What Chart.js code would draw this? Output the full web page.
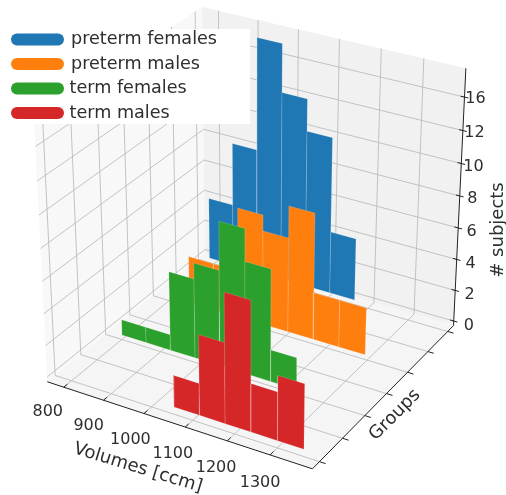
<!DOCTYPE html>
<html>
<head>
<meta charset="utf-8">
<style>
  html, body { margin: 0; background: #fff; }
  #chart-box { width: 506px; height: 495px; }
</style>
<script src="https://cdn.jsdelivr.net/npm/chart.js@4"></script>
</head>
<body>
<div id="chart-box"><canvas id="chart" width="506" height="495"></canvas></div>
<script>
const seriesNames = ['preterm females', 'preterm males', 'term females', 'term males'];
const seriesColors = ['#1f77b4', '#ff7f0e', '#2ca02c', '#d62728'];
const seriesGroups = [3, 2, 1, 0.04];

const bluePretermFemales = [4, 8, 15, 12, 10, 4];
const orangePretermMales = [3, 3, 7, 6, 8, 3, 3];
const greenTermFemales = [1, 1, 5, 6, 9, 7, 2];
const redTermMales = [2, 5, 8, 3, 4];

const blueEdges = [788, 851, 914, 977, 1040, 1103, 1166];
const orangeEdges = [853, 916, 979, 1042, 1105, 1168, 1231, 1295];
const greenEdges = [801, 863, 925, 987, 1049, 1111, 1173, 1235];
const redEdges = [1050, 1112, 1173, 1234, 1296, 1357];

const xTicks = [800, 900, 1000, 1100, 1200, 1300];
const yTicks = [0, 0.5, 1, 1.5, 2, 2.5, 3];
const zTicks = [0, 2, 4, 6, 8, 10, 12, 14];
const zTickLabels = ['0', '2', '4', '6', '8', '10', '12', '16'];

const xLim = [758, 1397];
const yLim = [-0.15, 3.15];
const zLim = [-0.3, 15.7];

// camera of the 3d box, fitted against the corners of the picture
const view = { elev: 0.4981, azim: -1.0426, dist: 7.5396, cx: 254.54, cy: 226.55, scale: 2307.29, zBox: 0.9704 };

const n = [Math.cos(view.elev) * Math.cos(view.azim), Math.cos(view.elev) * Math.sin(view.azim), Math.sin(view.elev)];
const r = [-Math.sin(view.azim), Math.cos(view.azim), 0];
const up = [-n[2] * r[1], n[2] * r[0], n[0] * r[1] - n[1] * r[0]];

function project(x, y, z) {
    let X = (x - xLim[0]) / (xLim[1] - xLim[0]) - 0.5;
    let Y = (y - yLim[0]) / (yLim[1] - yLim[0]) - 0.5;
    let Z = ((z - zLim[0]) / (zLim[1] - zLim[0]) - 0.5) * view.zBox;
    let depth = view.dist - (X * n[0] + Y * n[1] + Z * n[2]);
    return {
        x: view.cx + view.scale * (X * r[0] + Y * r[1]) / depth,
        y: view.cy - view.scale * (X * up[0] + Y * up[1] + Z * up[2]) / depth
    };
}

let datasets = [];

function addPolygon(corners, color, edge) {
    let pts = corners.map(c => project(c[0], c[1], c[2]));
    pts.push(pts[0]);
    datasets.push({
        data: pts, showLine: true, fill: 'shape', backgroundColor: color,
        borderColor: edge, borderWidth: edge ? 0.7 : 0, pointRadius: 0, tension: 0
    });
}

function addLine(a, b, color, width) {
    datasets.push({
        data: [project(a[0], a[1], a[2]), project(b[0], b[1], b[2])], showLine: true, fill: false,
        borderColor: color, borderWidth: width, pointRadius: 0, tension: 0
    });
}

const [x0, x1] = xLim, [y0, y1] = yLim, [z0, z1] = zLim;

// panes
addPolygon([[x0, y0, z0], [x0, y1, z0], [x0, y1, z1], [x0, y0, z1]], '#f8f8f8');
addPolygon([[x0, y1, z0], [x1, y1, z0], [x1, y1, z1], [x0, y1, z1]], '#f1f1f1');
addPolygon([[x0, y0, z0], [x1, y0, z0], [x1, y1, z0], [x0, y1, z0]], '#f5f5f5');

// grid
const gridColor = '#bcbcbc';
xTicks.forEach(t => {
    addLine([t, y0, z0], [t, y1, z0], gridColor, 0.9);
    addLine([t, y1, z0], [t, y1, z1], gridColor, 0.9);
});
yTicks.forEach(t => {
    addLine([x0, t, z0], [x1, t, z0], gridColor, 0.9);
    addLine([x0, t, z0], [x0, t, z1], gridColor, 0.9);
});
zTicks.forEach(t => {
    addLine([x0, y0, t], [x0, y1, t], gridColor, 0.9);
    addLine([x0, y1, t], [x1, y1, t], gridColor, 0.9);
});

// axis lines and tick marks
const axisColor = '#222222';
addLine([x0, y0, z0], [x1, y0, z0], axisColor, 1);
addLine([x1, y0, z0], [x1, y1, z0], axisColor, 1);
addLine([x1, y1, z0], [x1, y1, z1], axisColor, 1);
xTicks.forEach(t => addLine([t, y0, z0], [t, y0 + 0.07, z0], axisColor, 1));
yTicks.forEach(t => addLine([x1, t, z0], [x1 + 14, t, z0], axisColor, 1));
zTicks.forEach(t => addLine([x1 - 9, y1, t], [x1 + 9, y1, t], axisColor, 1));

// histogram of each group, back to front
function addBars(edges, counts, group, color) {
    counts.forEach((c, i) => {
        addPolygon([[edges[i], group, 0], [edges[i + 1], group, 0], [edges[i + 1], group, c], [edges[i], group, c]],
            color, 'rgba(255,255,255,0.22)');
    });
}
addBars(blueEdges, bluePretermFemales, seriesGroups[0], seriesColors[0]);
addBars(orangeEdges, orangePretermMales, seriesGroups[1], seriesColors[1]);
addBars(greenEdges, greenTermFemales, seriesGroups[2], seriesColors[2]);
addBars(redEdges, redTermMales, seriesGroups[3], seriesColors[3]);

// chart.js paints the last order first
datasets.forEach((d, i) => { d.order = datasets.length - i; });

const textColor = '#2e2e2e';
const fontName = '"DejaVu Sans", sans-serif';

function putText(ctx, text, x, y, size, angle, align) {
    ctx.save();
    ctx.translate(x, y);
    ctx.rotate((angle || 0) * Math.PI / 180);
    ctx.font = size + 'px ' + fontName;
    ctx.fillStyle = textColor;
    ctx.textAlign = align || 'center';
    ctx.textBaseline = 'middle';
    ctx.fillText(text, 0, 0);
    ctx.restore();
}

const labelsPlugin = {
    id: 'labelsPlugin',
    afterDraw(chart) {
        let ctx = chart.ctx;

        xTicks.forEach((t, i) => {
            let p = project(t, y0, z0), k = i / (xTicks.length - 1);
            putText(ctx, String(t), p.x - 16 + 6 * k, p.y + 25 + 3 * k, 16);
        });
        zTicks.forEach((t, i) => {
            let p = project(x1, y1, t), k = i / (zTicks.length - 1);
            putText(ctx, zTickLabels[i], p.x + 15 - 4 * k, p.y + 5 - 3 * k, 16);
        });
        putText(ctx, 'Volumes [ccm]', 138, 468, 18, 17);
        putText(ctx, 'Groups', 395, 415, 18, -45);
        putText(ctx, '# subjects', 498, 230, 18, -90);

        // legend
        ctx.fillStyle = '#ffffff';
        ctx.fillRect(11, 29, 239, 95);
        seriesNames.forEach((name, i) => {
            let y = 39.5 + i * 24.5;
            ctx.strokeStyle = seriesColors[i];
            ctx.lineWidth = 12;
            ctx.lineCap = 'round';
            ctx.beginPath();
            ctx.moveTo(17, y);
            ctx.lineTo(58, y);
            ctx.stroke();
            putText(ctx, name, i < 2 ? 71 : 69.5, y, 17.6, 0, 'left');
        });
    }
};

new Chart(document.getElementById('chart'), {
    type: 'scatter',
    data: { datasets: datasets },
    plugins: [labelsPlugin],
    options: {
        responsive: false,
        animation: false,
        layout: { padding: 0 },
        scales: {
            x: { type: 'linear', min: 0, max: 506, display: false },
            y: { type: 'linear', min: 0, max: 495, reverse: true, display: false }
        },
        plugins: { legend: { display: false }, tooltip: { enabled: false } }
    }
});
</script>
</body>
</html>
